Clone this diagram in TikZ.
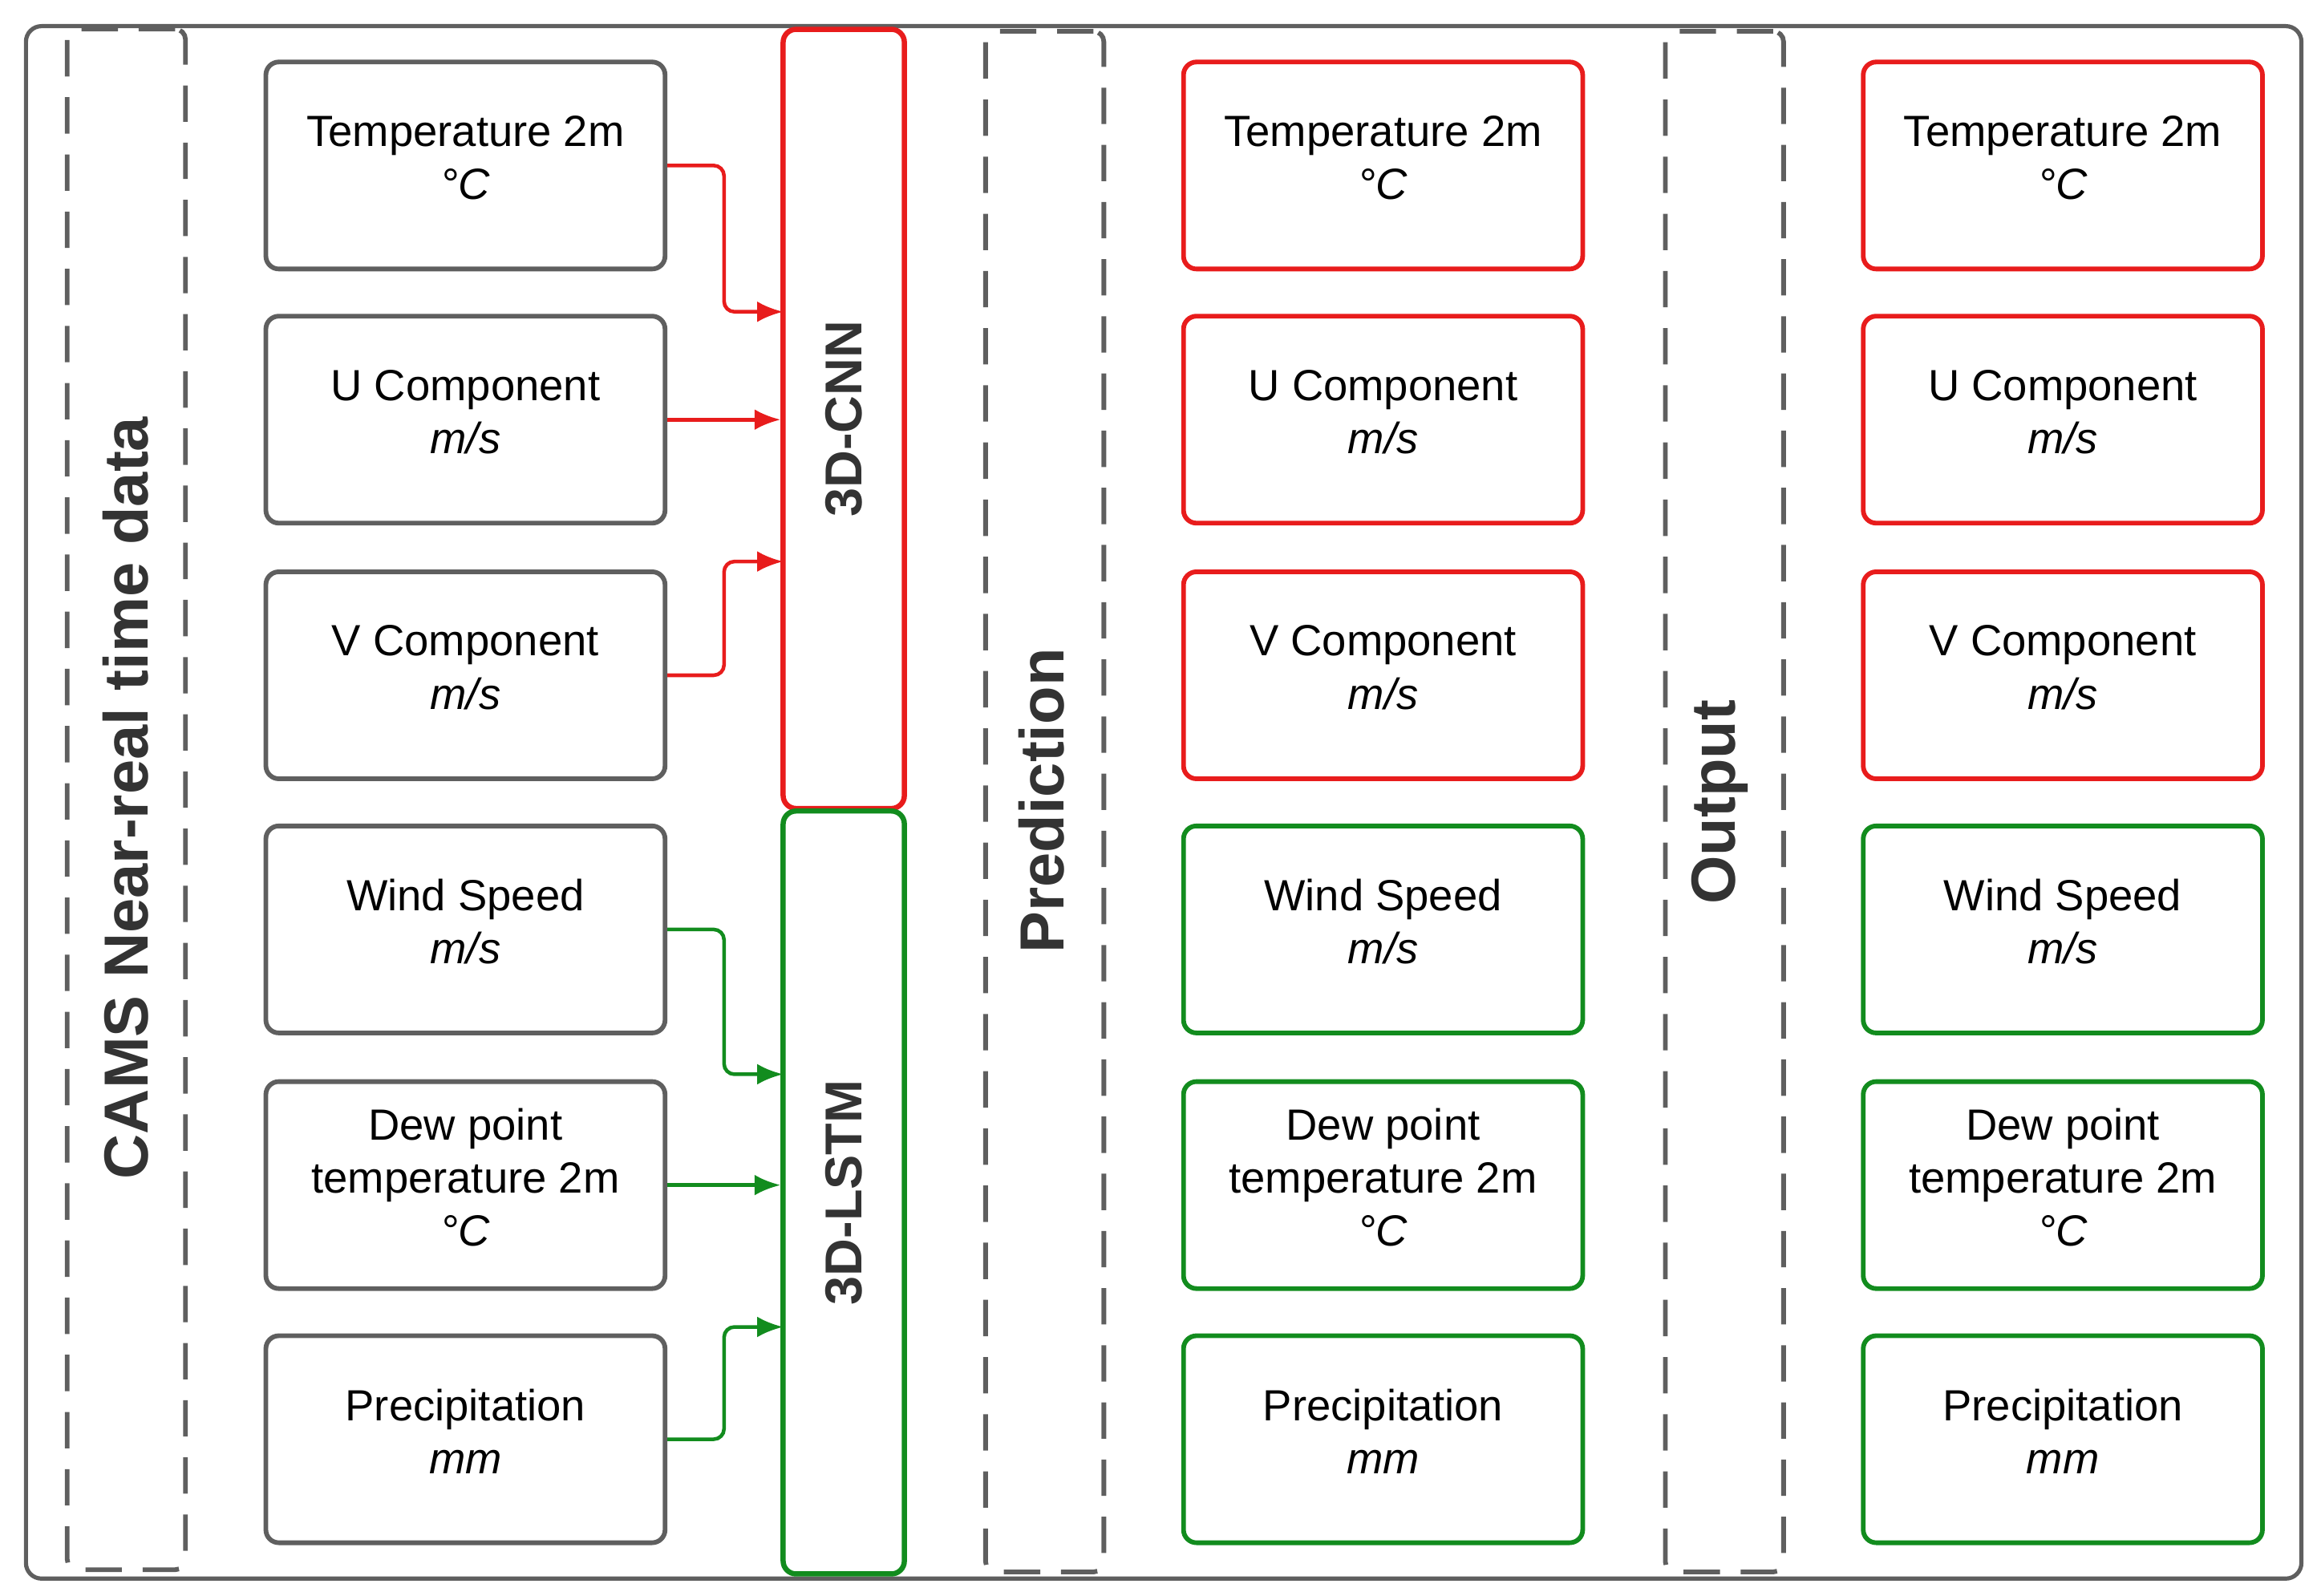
\documentclass[tikz,border=0pt]{standalone}
\usepackage{fontspec}
\setmainfont{Liberation Sans}
\usetikzlibrary{arrows.meta}
\definecolor{cred}{RGB}{232,28,28}
\definecolor{cgreen}{RGB}{18,140,30}
\definecolor{cgray}{RGB}{95,95,95}
\begin{document}
\begin{tikzpicture}[x=0.01cm,y=-0.01cm,
  box/.style={draw=#1,line width=0.9pt,rounded corners=2.5pt,minimum width=2.7cm,minimum height=1.4cm,inner sep=0pt,align=center,font=\fontsize{8.4}{10.2}\selectfont},
  txt/.style={align=center,font=\fontsize{8.4}{10.2}\selectfont,inner sep=0pt},
  dcol/.style={draw=cgray,line width=0.9pt,dash pattern=on 7pt off 4pt,rounded corners=2pt,minimum width=0.8cm,minimum height=10.42cm,inner sep=0pt},
  lab/.style={rotate=90,font=\fontsize{#1}{#1}\selectfont\bfseries,text=black!80},
  mod/.style={draw=#1,line width=1pt,rounded corners=2.5pt,minimum width=0.82cm,inner sep=0pt},
  arr/.style={draw=#1,line width=0.7pt,-{Latex[length=5pt,width=4pt]},rounded corners=2pt}]
\useasboundingbox (0,0) rectangle (1568,1080);
\node[draw=cgray,line width=0.8pt,rounded corners=3pt,minimum width=15.39cm,minimum height=10.5cm,inner sep=0pt] (frame) at (787.5,543) {};
\node[dcol] (dc1) at (85.5,541) {};
\node[dcol] (dc2) at (707,542.5) {};
\node[dcol] (dc3) at (1167,542.5) {};
\node[lab=12] (l1) at (85,540) {CAMS Near-real time data};
\node[lab=12] (l2) at (705,542) {Prediction};
\node[lab=12] (l3) at (1164,543) {Output};
\node[mod=cred,minimum height=5.27cm] (cnn) at (571,283.5) {};
\node[lab=10] at (cnn) {3D-CNN};
\node[mod=cgreen,minimum height=5.16cm] (lstm) at (571,807) {};
\node[lab=10] at (lstm) {3D-LSTM};
\foreach \c/\x/\ca/\cb in {a/315/cgray/cgray,b/936/cred/cgreen,c/1396/cred/cgreen}{
  \node[box=\ca] (\c1) at (\x,112) {};
  \node[box=\ca] (\c2) at (\x,284) {};
  \node[box=\ca] (\c3) at (\x,457) {};
  \node[box=\cb] (\c4) at (\x,629) {};
  \node[box=\cb] (\c5) at (\x,802) {};
  \node[box=\cb] (\c6) at (\x,974) {};
  \node[txt] at ([yshift=1.5pt]\c1) {Temperature 2m\\\textit{°C}};
  \node[txt] at ([yshift=1.5pt]\c2) {U Component\\\textit{m/s}};
  \node[txt] at ([yshift=1.5pt]\c3) {V Component\\\textit{m/s}};
  \node[txt] at ([yshift=1.5pt]\c4) {Wind Speed\\\textit{m/s}};
  \node[txt] at ([yshift=1.5pt]\c5) {Dew point\\temperature 2m\\\textit{°C}};
  \node[txt] at ([yshift=1.5pt]\c6) {Precipitation\\\textit{mm}};
}
\coordinate (t1) at (530,211);
\coordinate (t3) at (530,380);
\coordinate (t4) at (530,727);
\coordinate (t6) at (530,898);
\draw[arr=cred] (a1.east) -| (490,180) |- (t1);
\draw[arr=cred] (a2.east) -- (cnn.west|-a2.east);
\draw[arr=cred] (a3.east) -| (490,400) |- (t3);
\draw[arr=cgreen] (a4.east) -| (490,700) |- (t4);
\draw[arr=cgreen] (a5.east) -- (lstm.west|-a5.east);
\draw[arr=cgreen] (a6.east) -| (490,920) |- (t6);
\end{tikzpicture}
\end{document}
